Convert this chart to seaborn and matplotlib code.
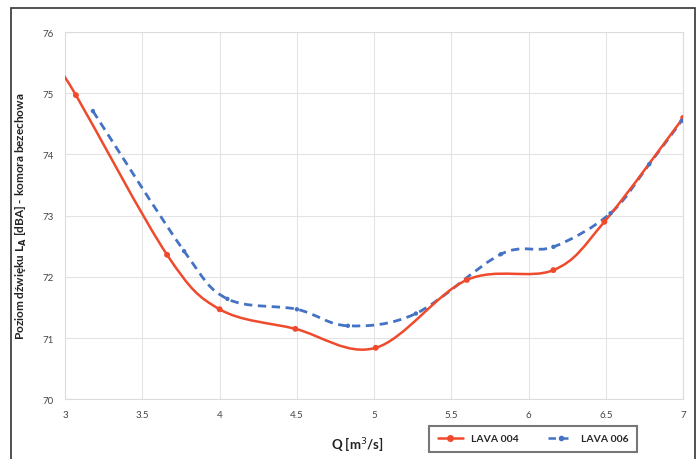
#!/usr/bin/env python3
"""
Sound level vs flow rate for two LAVA fan variants, Excel-style smoothed lines.
"""

import matplotlib
matplotlib.use("Agg")
import matplotlib.pyplot as plt
import numpy as np
import pandas as pd
import seaborn as sns
from matplotlib.lines import Line2D
from matplotlib.patches import PathPatch, Rectangle
from matplotlib.path import Path

# Values.
q_lava004 = [2.95, 3.07, 3.66, 4.0, 4.49, 5.01, 5.6, 6.16, 6.49, 7.0]
la_lava004 = [75.42, 74.97, 72.36, 71.47, 71.15, 70.84, 71.95, 72.11, 72.9, 74.6]

q_lava006 = [3.18, 3.77, 4.05, 4.5, 4.83, 5.27, 5.82, 6.16, 6.53, 6.78, 6.99]
la_lava006 = [74.71, 72.42, 71.64, 71.47, 71.2, 71.4, 72.37, 72.49, 73.04, 73.84, 74.55]

x_ticks = [3, 3.5, 4, 4.5, 5, 5.5, 6, 6.5, 7]
x_tick_labels = ["3", "3.5", "4", "4.5", "5", "5.5", "6", "6.5", "7"]
y_ticks = [70, 71, 72, 73, 74, 75, 76]

RED = "#f04a2c"
BLUE = "#4472c4"


def smooth_path(xs, ys):
    """Bezier path through the points, same idea as Excel's 'smoothed line'."""
    pts = np.column_stack([xs, ys]).astype(float)
    verts = [pts[0]]
    codes = [Path.MOVETO]
    n = len(pts)
    for i in range(n - 1):
        p0 = pts[max(i - 1, 0)]
        p1 = pts[i]
        p2 = pts[i + 1]
        p3 = pts[min(i + 2, n - 1)]
        c1 = p1 + (p2 - p0) / 6.0
        c2 = p2 - (p3 - p1) / 6.0
        verts += [c1, c2, p2]
        codes += [Path.CURVE4] * 3
    return Path(verts, codes)


sns.set_theme(style="whitegrid")
plt.rcParams["font.family"] = ["Lato", "DejaVu Sans"]

fig = plt.figure(figsize=(7, 4.6), dpi=100)
ax = fig.add_axes([0.093, 0.130, 0.883, 0.798])

df004 = pd.DataFrame({"q": q_lava004, "la": la_lava004})
df006 = pd.DataFrame({"q": q_lava006, "la": la_lava006})

# curves (clipped to the plot area like the original)
ax.add_patch(PathPatch(smooth_path(q_lava004, la_lava004), facecolor="none",
                       edgecolor=RED, lw=1.8, zorder=3))
ax.add_patch(PathPatch(smooth_path(q_lava006, la_lava006), facecolor="none",
                       edgecolor=BLUE, lw=2.0, linestyle=(0, (3, 2)), zorder=2))

# markers
sns.scatterplot(data=df004, x="q", y="la", color=RED, s=18, edgecolor="none",
                zorder=4, ax=ax)
sns.scatterplot(data=df006, x="q", y="la", color=BLUE, s=10, edgecolor="none",
                zorder=4, ax=ax)

ax.set_xlim(3, 7)
ax.set_ylim(70, 76)
ax.set_xticks(x_ticks)
ax.set_xticklabels(x_tick_labels)
ax.set_yticks(y_ticks)
ax.tick_params(axis="both", labelsize=7, colors="#444444", length=0, pad=8)
ax.grid(True, color="#e3e3e3", lw=0.8)
ax.set_facecolor("white")
for s in ax.spines.values():
    s.set_color("#dcdcdc")
    s.set_linewidth(0.8)

ax.set_xlabel("Q [m$^3$/s]", fontsize=9.5, fontweight="bold", color="#222222")
ax.xaxis.set_label_coords(0.473, -0.095)
ax.set_ylabel("Poziom dźwięku L$_\\mathbf{A}$ [dBA] - komora bezechowa", fontsize=8.5,
              fontweight="bold", color="#222222", labelpad=10)

handles = [
    Line2D([0], [0], color=RED, lw=1.8, marker="o", markersize=4, label="LAVA 004"),
    Line2D([0], [0], color=BLUE, lw=1.8, linestyle=(0, (3, 2)), marker="o",
           markersize=3, label="LAVA 006"),
]
leg = fig.legend(handles=handles, loc="center", ncol=2, bbox_to_anchor=(0.762, 0.044),
                 fontsize=7.5, frameon=True, fancybox=False, handlelength=2.4,
                 columnspacing=2.8, borderpad=0.8, borderaxespad=0)
leg.get_frame().set_edgecolor("#555555")
leg.get_frame().set_linewidth(1.5)
for t in leg.get_texts():
    t.set_fontweight("bold")

# outer chart frame
fig.patches.append(Rectangle((0.015, -0.02), 0.978, 1.0, transform=fig.transFigure,
                             fill=False, edgecolor="#333333", lw=1.2))

fig.savefig("out.png", dpi=100)
